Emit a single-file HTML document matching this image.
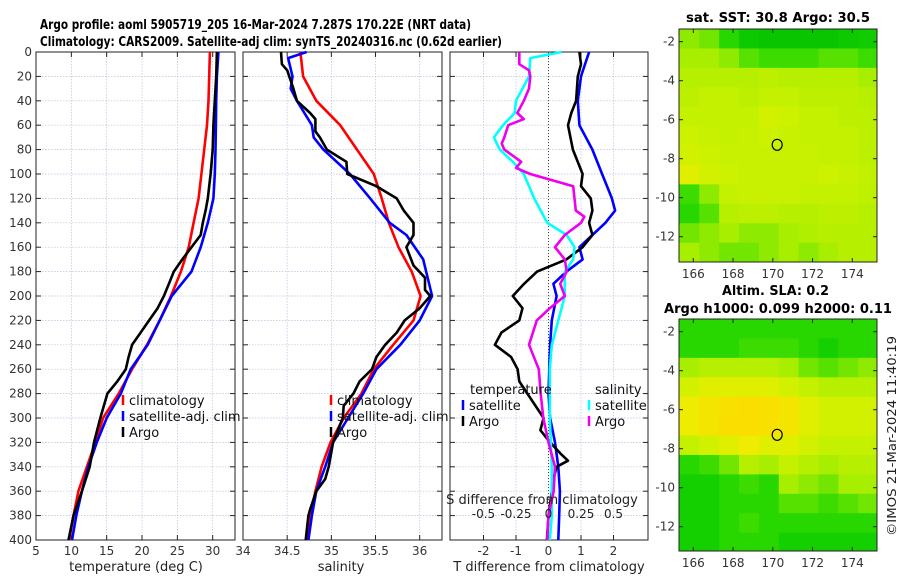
<!DOCTYPE html>
<html><head><meta charset="utf-8"><style>
body{margin:0;background:#fff;}
svg{display:block;font-family:"DejaVu Sans","Liberation Sans",sans-serif;}
</style></head><body>
<svg id="fig" width="900" height="580" viewBox="0 0 900 580">
<text x="40" y="29" font-weight="bold" font-size="13" textLength="431" lengthAdjust="spacingAndGlyphs">Argo profile: aoml 5905719_205 16-Mar-2024 7.287S 170.22E (NRT data)</text>
<text x="40" y="46" font-weight="bold" font-size="13" textLength="462" lengthAdjust="spacingAndGlyphs">Climatology: CARS2009. Satellite-adj clim: synTS_20240316.nc (0.62d earlier)</text>
<text x="778" y="22" text-anchor="middle" font-weight="bold" font-size="13" textLength="184" lengthAdjust="spacingAndGlyphs">sat. SST: 30.8 Argo: 30.5</text>
<text x="722" y="295" font-weight="bold" font-size="13" textLength="107" lengthAdjust="spacingAndGlyphs">Altim. SLA: 0.2</text>
<text x="664" y="313" font-weight="bold" font-size="13" textLength="228" lengthAdjust="spacingAndGlyphs">Argo h1000: 0.099 h2000: 0.11</text>
<text transform="translate(896,436) rotate(-90)" text-anchor="middle" font-size="12" fill="#222" textLength="200" lengthAdjust="spacingAndGlyphs">©IMOS 21-Mar-2024 11:40:19</text>
</svg>
<script>
// ---------- data ----------
const depths = [0,20,40,60,80,100,120,140,160,180,200,220,240,260,280,300,320,340,360,380,400];
const tempClim = [29.6,29.5,29.4,29.2,28.8,28.4,28.0,27.3,26.6,25.5,24.1,22.5,20.7,18.6,16.7,14.5,13.4,12.2,11.0,10.3,9.7];
const tempSat = [30.8,30.6,30.5,30.45,30.4,30.3,30.1,29.3,28.3,27.0,24.2,22.5,20.8,18.4,17.0,15.0,13.6,12.4,11.5,10.7,10.1];
const argoDepths = [0,20,40,60,80,100,110,120,130,140,150,160,170,180,190,200,210,220,230,240,250,260,270,280,300,320,340,360,380,400];
const tempArgo = [30.6,30.5,30.3,30.1,30.0,29.7,29.5,29.3,29.0,28.6,28.3,27.0,25.7,24.5,23.8,23.1,22.2,21.0,19.8,18.6,18.1,17.7,16.5,15.1,14.1,13.2,12.6,11.5,10.3,9.6];
const salClim = [34.65,34.68,34.83,35.10,35.29,35.48,35.57,35.65,35.76,35.91,36.01,35.93,35.70,35.48,35.34,35.14,34.99,34.89,34.82,34.76,34.73];
const salSatDepths = [0,5,20,30,40,60,70,80,100,120,140,150,170,200,220,240,260,280,300,320,340,360,380,400];
const salSat = [34.72,34.51,34.56,34.54,34.61,34.78,34.80,34.91,35.21,35.44,35.66,35.85,36.04,36.14,36.00,35.78,35.51,35.36,35.19,35.02,34.93,34.83,34.78,34.74];
const salArgoDepths = [0,10,15,30,40,50,55,65,70,80,90,100,110,120,130,140,150,160,175,185,195,200,210,220,230,240,250,260,270,280,290,300,320,340,350,360,375,380,400];
const salArgo = [34.43,34.44,34.50,34.57,34.61,34.76,34.82,34.82,34.87,34.95,35.17,35.18,35.51,35.74,35.82,35.93,35.93,35.85,35.93,36.06,36.06,36.12,36.00,35.83,35.74,35.61,35.51,35.46,35.32,35.25,35.14,35.13,35.02,34.97,34.93,34.83,34.76,34.74,34.71];
const dTSatDepths = [0,20,40,60,80,100,120,130,140,150,160,170,180,190,200,220,240,280,300,320,340,360,380,400];
const dTSat = [1.25,1.0,0.9,0.95,1.35,1.65,1.95,2.05,1.75,1.35,0.95,1.05,0.55,0.15,0.25,0.1,0.05,0,0.05,0.2,0.3,0.35,0.33,0.3];
const dTArgoDepths = [0,10,20,40,50,60,80,100,110,120,130,140,150,160,170,180,190,200,210,220,230,240,250,260,270,280,300,310,320,330,335,340,350,360,380,400];
const dTArgo = [0.95,1.0,0.9,0.85,0.7,0.6,0.75,1.05,1.0,1.3,1.35,1.25,1.35,1.05,0.55,-0.35,-0.75,-1.1,-0.8,-0.9,-1.45,-1.65,-1.15,-0.95,-0.9,-0.65,-0.15,-0.25,0.05,0.4,0.6,0.25,0.15,0.1,0,-0.05];
const dSSatDepths = [0,5,20,40,50,60,70,80,90,100,120,140,150,160,170,180,200,220,240,260,300,340,380,400];
const dSSat = [0.1,-0.14,-0.15,-0.25,-0.26,-0.35,-0.42,-0.375,-0.275,-0.19,-0.11,-0.01,0.14,0.2,0.19,0.125,0.125,0.075,0.025,0.01,0.01,0.025,0.025,0.01];
const dSArgoDepths = [0,10,15,20,30,40,50,55,60,70,75,80,90,95,100,110,120,130,135,140,150,160,170,180,190,200,210,220,240,260,280,300,320,340,360,380,400];
const dSArgo = [-0.225,-0.225,-0.15,-0.14,-0.15,-0.19,-0.24,-0.19,-0.31,-0.34,-0.36,-0.34,-0.21,-0.25,-0.14,0.19,0.2,0.21,0.275,0.25,0.125,0.05,0.125,0.14,0.09,0.125,0.01,-0.09,-0.15,-0.075,-0.06,-0.04,0,0.05,0.04,0,-0.01];
const tTicks = [5,10,15,20,25,30];
const sTicks = [34,34.5,35,35.5,36];
const dTTicks = [-2,-1,0,1,2];
const dSTicks = [-0.5,-0.25,0,0.25,0.5];
const dSTickLabels = ['-0.5','-0.25','0','0.25','0.5'];
const depthTicks = [0,20,40,60,80,100,120,140,160,180,200,220,240,260,280,300,320,340,360,380,400];
const lonTicks = [166,168,170,172,174];
const latTicks = [-2,-4,-6,-8,-10,-12];
const sstGrid = [
[0.5,0.45,0.3,0.15,0.1,0.1,0.1,0.1,0.15,0.2],
[0.55,0.55,0.5,0.4,0.35,0.35,0.35,0.4,0.4,0.35],
[0.6,0.6,0.6,0.6,0.62,0.6,0.6,0.6,0.6,0.55],
[0.62,0.65,0.65,0.62,0.65,0.65,0.62,0.62,0.62,0.6],
[0.65,0.65,0.65,0.65,0.7,0.68,0.65,0.65,0.62,0.62],
[0.68,0.66,0.65,0.66,0.68,0.66,0.65,0.65,0.65,0.62],
[0.7,0.68,0.66,0.66,0.66,0.66,0.66,0.65,0.65,0.62],
[0.75,0.7,0.68,0.66,0.66,0.66,0.66,0.68,0.66,0.64],
[0.35,0.5,0.65,0.66,0.66,0.66,0.65,0.65,0.65,0.63],
[0.3,0.4,0.6,0.62,0.62,0.6,0.6,0.62,0.62,0.6],
[0.45,0.5,0.55,0.5,0.5,0.55,0.58,0.6,0.6,0.6],
[0.55,0.5,0.45,0.45,0.5,0.55,0.5,0.55,0.6,0.6]];
const slaGrid = [
[0.3,0.3,0.3,0.3,0.3,0.3,0.3,0.3,0.3,0.3],
[0.3,0.3,0.3,0.35,0.35,0.35,0.3,0.25,0.3,0.3],
[0.55,0.6,0.6,0.6,0.6,0.55,0.45,0.4,0.45,0.5],
[0.7,0.75,0.75,0.75,0.75,0.7,0.65,0.6,0.6,0.6],
[0.8,0.85,0.88,0.9,0.88,0.85,0.75,0.7,0.7,0.7],
[0.8,0.85,0.9,0.9,0.88,0.85,0.75,0.7,0.7,0.7],
[0.65,0.7,0.75,0.8,0.75,0.75,0.7,0.65,0.65,0.65],
[0.3,0.35,0.45,0.6,0.55,0.65,0.6,0.55,0.6,0.6],
[0.25,0.25,0.3,0.35,0.3,0.55,0.5,0.45,0.55,0.55],
[0.25,0.25,0.3,0.3,0.3,0.4,0.4,0.35,0.4,0.45],
[0.25,0.25,0.3,0.35,0.3,0.3,0.3,0.3,0.3,0.3],
[0.25,0.25,0.3,0.3,0.3,0.25,0.25,0.25,0.25,0.25]];
const argoLon = 170.22, argoLat = -7.287;

// ---------- drawing ----------
const NS='http://www.w3.org/2000/svg';
const svg=document.getElementById('fig');
function el(tag,attrs,parent){const e=document.createElementNS(NS,tag);for(const k in attrs)e.setAttribute(k,attrs[k]);(parent||svg).appendChild(e);return e;}
const Y0=52,Y1=540;
const yD=d=>Y0+(d/400)*(Y1-Y0);
function lin(d0,d1,r0,r1){return v=>r0+(v-d0)/(d1-d0)*(r1-r0);}

function panel(name,x0,x1,xs,ticks,labels,showY){
  const g=el('g',{});
  
  
  for(const d of depthTicks){ if(d>0&&d<400){const l=el('line',{x1:x0,x2:x1,y1:yD(d),y2:yD(d),stroke:'#b8c0e0','stroke-width':0.7,'stroke-dasharray':'1.5,1.5'},g);
    
    }}
  ticks.forEach((t,i)=>{const x=xs(t);
    if(x>x0+1&&x<x1-1){const l=el('line',{x1:x,x2:x,y1:Y0,y2:Y1,stroke:'#b8c0e0','stroke-width':0.7,'stroke-dasharray':'1.5,1.5'},g);
      
      }
    el('line',{x1:x,x2:x,y1:Y1,y2:Y1-5,stroke:'#222'},g);el('line',{x1:x,x2:x,y1:Y0,y2:Y0+5,stroke:'#222'},g);
    if(labels){const tx=el('text',{x:x,y:Y1+15,'text-anchor':'middle','font-size':12,fill:'#333'},g);tx.textContent=labels[i];
      
      }
  });
  for(const d of depthTicks){el('line',{x1:x0,x2:x0+5,y1:yD(d),y2:yD(d),stroke:'#222'},g);el('line',{x1:x1,x2:x1-5,y1:yD(d),y2:yD(d),stroke:'#222'},g);
    if(showY){const tx=el('text',{x:x0-4,y:yD(d)+4,'text-anchor':'end','font-size':12,fill:'#333'},g);tx.textContent=d;
      
      }}
  const b=el('rect',{x:x0,y:Y0,width:x1-x0,height:Y1-Y0,fill:'none',stroke:'#222','stroke-width':1},g);
  
  
  return g;
}
function line(g,name,ds,vs,xs,color){
  const pts=ds.map((d,i)=>xs(vs[i]).toFixed(1)+','+yD(d).toFixed(1)).join(' ');
  const p=el('polyline',{points:pts,fill:'none',stroke:color,'stroke-width':2.6,'stroke-linejoin':'round'},g);
  
  
}
function legend(g,x,y,items){
  items.forEach((it,i)=>{const yy=y+i*16;
    el('line',{x1:x,x2:x,y1:yy-10,y2:yy,stroke:it[1],'stroke-width':2.5},g);
    const t=el('text',{x:x+6,y:yy,'font-size':13,fill:'#111'},g);t.textContent=it[0];
    
    });
}
function label(txt,x,y,name){const t=el('text',{x:x,y:y,'text-anchor':'middle','font-size':13,fill:'#222'});t.textContent=txt;
  
  }

// Panel 1: temperature
const xT=lin(5,30,36,212.7);
const g1=panel('temperature-panel',36,235,xT,tTicks,tTicks.map(String),true);
line(g1,'temp-climatology-line',depths,tempClim,xT,'#f00');
line(g1,'temp-satellite-line',depths,tempSat,xT,'#00f');
line(g1,'temp-argo-line',argoDepths,tempArgo,xT,'#000');
legend(g1,123,405,[['climatology','#f00'],['satellite-adj. clim','#00f'],['Argo','#000']]);
label('temperature (deg C)',136,571,'temperature-axis-title');

// Panel 2: salinity
const xS=lin(34,36,243,419.7);
const g2=panel('salinity-panel',243,442,xS,sTicks,sTicks.map(String),false);
line(g2,'sal-climatology-line',depths,salClim,xS,'#f00');
line(g2,'sal-satellite-line',salSatDepths,salSat,xS,'#00f');
line(g2,'sal-argo-line',salArgoDepths,salArgo,xS,'#000');
legend(g2,331,405,[['climatology','#f00'],['satellite-adj. clim','#00f'],['Argo','#000']]);
label('salinity',341,571,'salinity-axis-title');

// Panel 3: differences
const xdT=lin(0,2,548.5,613.5);
const xdS=v=>xdT(v*4);
const g3=panel('difference-panel',450,648,xdT,dTTicks,dTTicks.map(String),false);
const z=el('line',{x1:xdT(0),x2:xdT(0),y1:Y0,y2:Y1,stroke:'#444','stroke-width':1,'stroke-dasharray':'1,2'},g3);


line(g3,'dtemp-satellite-line',dTSatDepths,dTSat,xdT,'#00f');
line(g3,'dtemp-argo-line',dTArgoDepths,dTArgo,xdT,'#000');
line(g3,'dsal-satellite-line',dSSatDepths,dSSat,xdS,'#0ff');
line(g3,'dsal-argo-line',dSArgoDepths,dSArgo,xdS,'#e0e');
{const t=el('text',{x:470,y:394,'font-size':13,fill:'#111'},g3);t.textContent='temperature';
 
 }
{const t=el('text',{x:595,y:394,'font-size':13,fill:'#111'},g3);t.textContent='salinity';
 
 }
legend(g3,463,410,[['satellite','#00f'],['Argo','#000']]);
legend(g3,589,410,[['satellite','#0ff'],['Argo','#e0e']]);
label('S difference from climatology',542,504,'s-diff-axis-title');
dSTicks.forEach((v,i)=>{const t=el('text',{x:xdS(v),y:518,'text-anchor':'middle','font-size':12,fill:'#222'});t.textContent=dSTickLabels[i];
  
  });
label('T difference from climatology',549,571,'t-diff-axis-title');

// Maps
function cmap(v){const stops=[[0,[0,190,0]],[0.25,[20,208,0]],[0.35,[60,220,0]],[0.55,[168,238,0]],[0.68,[205,242,0]],[0.8,[238,236,0]],[0.9,[250,222,0]],[1,[252,205,0]]];
  for(let i=1;i<stops.length;i++){if(v<=stops[i][0]){const a=stops[i-1],b=stops[i],f=(v-a[0])/(b[0]-a[0]);
    return 'rgb('+a[1].map((c,k)=>Math.round(c+(b[1][k]-c)*f)).join(',')+')';}}return 'rgb(252,205,0)';}
function map(name,grid,y0,y1,latM2y,latM12y){
  const x0=679,x1=877;
  const g=el('g',{});
  
  
  const lonX=lin(166,174,693.3,852.3), latY=lin(-2,-12,latM2y,latM12y);
  const lon0=165.3,lon1=175.3,lat0=-1.35,lat1=-13.3;
  const rows=grid.length,cols=grid[0].length;
  const cw=(lon1-lon0)/cols,ch=(lat0-lat1)/rows;
  grid.forEach((row,r)=>row.forEach((v,c)=>{
    const xa=lonX(lon0+c*cw),xb=lonX(lon0+(c+1)*cw),ya=latY(lat0-r*ch),yb=latY(lat0-(r+1)*ch);
    const cell=el('rect',{x:Math.max(x0,xa),y:Math.max(y0,ya),width:Math.min(x1,xb)-Math.max(x0,xa)+0.5,height:Math.min(y1,yb)-Math.max(y0,ya)+0.5,fill:cmap(v)},g);
    
    
  }));
  const b=el('rect',{x:x0,y:y0,width:x1-x0,height:y1-y0,fill:'none',stroke:'#222'},g);
  
  
  lonTicks.forEach(l=>{const x=lonX(l);el('line',{x1:x,x2:x,y1:y1,y2:y1-4,stroke:'#222'},g);el('line',{x1:x,x2:x,y1:y0,y2:y0+4,stroke:'#222'},g);
    const t=el('text',{x:x,y:y1+16,'text-anchor':'middle','font-size':12,fill:'#333'},g);t.textContent=l;
    
    });
  latTicks.forEach(l=>{const y=latY(l);el('line',{x1:x0,x2:x0+4,y1:y,y2:y,stroke:'#222'},g);el('line',{x1:x1,x2:x1-4,y1:y,y2:y,stroke:'#222'},g);
    const t=el('text',{x:x0-4,y:y+4,'text-anchor':'end','font-size':12,fill:'#333'},g);t.textContent=l;
    
    });
  const m=el('ellipse',{cx:lonX(argoLon),cy:latY(argoLat),rx:5,ry:5.5,fill:'none',stroke:'#000','stroke-width':1.2},g);
  
  
}
map('sst-map',sstGrid,29,262,41.7,236.7);
map('sla-map',slaGrid,319,551,331.7,526.7);
</script>
</body></html>
